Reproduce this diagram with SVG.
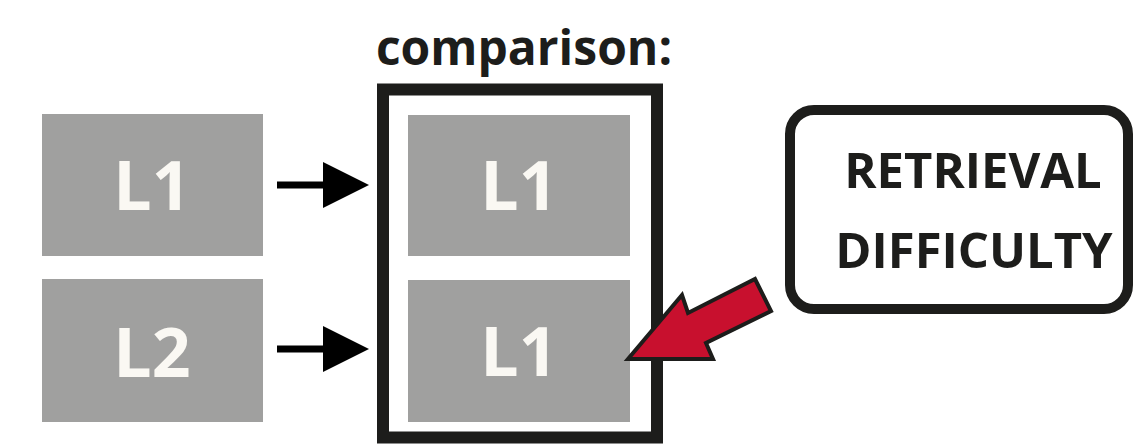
<svg xmlns="http://www.w3.org/2000/svg" width="1134" height="445" viewBox="0 0 1134 445">
<style>
.box{fill:#a0a09f}
.lt{font-family:"Open Sans","Liberation Sans",sans-serif;font-weight:bold;font-size:68px;fill:#faf8f3;text-anchor:middle}
.bt{font-family:"Open Sans","Liberation Sans",sans-serif;font-weight:bold;fill:#1d1d1b;text-anchor:middle}
</style>
<defs>
<marker id="ah" markerWidth="46" markerHeight="46" refX="0" refY="23" markerUnits="userSpaceOnUse" orient="auto">
<polygon points="0,0 46,23 0,46" fill="#000"/>
</marker>
</defs>
<rect width="1134" height="445" fill="#fff"/>
<text class="bt" x="524" y="65" font-size="48">comparison:</text>
<g id="left-L1"><rect class="box" x="42" y="114" width="221" height="142"/><text class="lt" x="152" y="210">L1</text></g>
<g id="left-L2"><rect class="box" x="42" y="279" width="221" height="143"/><text class="lt" x="152" y="377">L2</text></g>
<g id="comparison">
<rect x="383" y="89.5" width="274" height="348" fill="none" stroke="#1d1d1b" stroke-width="12"/>
<g id="cmp-L1a"><rect class="box" x="408" y="115" width="222" height="141"/><text class="lt" x="519" y="210">L1</text></g>
<g id="cmp-L1b"><rect class="box" x="408" y="280" width="222" height="142"/><text class="lt" x="519" y="376">L1</text></g>
</g>
<g id="retrieval">
<rect x="790" y="110" width="338" height="199" rx="24" fill="#fff" stroke="#1d1d1b" stroke-width="10"/>
<text class="bt" x="973" y="188" font-size="49">RETRIEVAL</text>
<text class="bt" x="974" y="268" font-size="49">DIFFICULTY</text>
</g>
<g id="connectors">
<line x1="277" y1="185" x2="323" y2="185" stroke="#000" stroke-width="7" marker-end="url(#ah)"/>
<line x1="277" y1="349" x2="323" y2="349" stroke="#000" stroke-width="7" marker-end="url(#ah)"/>
<polygon points="628,359 682,295 688,313 755,279 771,311 706,343 713,359" fill="#c8102e" stroke="#1d1d1b" stroke-width="4" stroke-linejoin="miter"/>
</g>
</svg>
